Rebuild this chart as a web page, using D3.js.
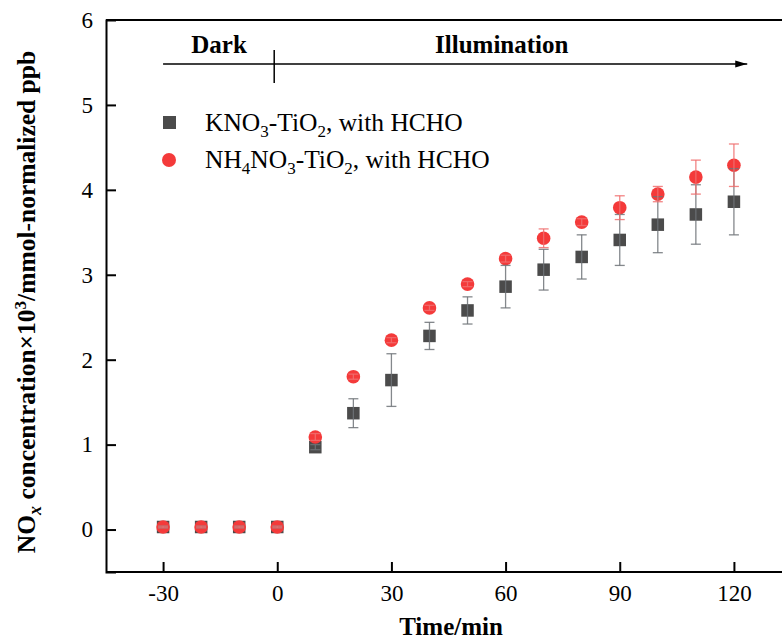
<!DOCTYPE html>
<head>
  <meta charset="utf-8">
  <script src="https://d3js.org/d3.v7.min.js"></script>
  <style>
    body { margin:0; background:#fff; }
    text { font-family: "Liberation Serif", "Times New Roman", serif; }
  </style>
</head>
<body>
<script>
// time points (min)
var times = [-30, -20, -10, 0, 10, 20, 30, 40, 50, 60, 70, 80, 90, 100, 110, 120];
// KNO3-TiO2 series
var kno3 = [0.03, 0.03, 0.03, 0.03, 0.97, 1.37, 1.76, 2.28, 2.58, 2.86, 3.06, 3.21, 3.41, 3.59, 3.71, 3.86];
var kno3Err = [0.01, 0.01, 0.01, 0.01, 0.03, 0.17, 0.31, 0.16, 0.16, 0.25, 0.24, 0.26, 0.30, 0.33, 0.35, 0.39];
// NH4NO3-TiO2 series
var nh4 = [0.03, 0.03, 0.03, 0.03, 1.09, 1.80, 2.23, 2.61, 2.89, 3.19, 3.43, 3.62, 3.79, 3.95, 4.15, 4.29];
var nh4Err = [0.01, 0.01, 0.01, 0.01, 0.04, 0.03, 0.03, 0.03, 0.03, 0.04, 0.11, 0.04, 0.14, 0.09, 0.20, 0.25];
var xTicks = [-30, 0, 30, 60, 90, 120];
var yTicks = [0, 1, 2, 3, 4, 5, 6];

var W = 782, H = 639;
var svg = d3.select("body").append("svg").attr("width", W).attr("height", H);

var x = d3.scaleLinear().domain([-45, 135]).range([106, 791]);
var y = d3.scaleLinear().domain([-0.5, 6]).range([572, 20]);

// frame (right side is cropped off)
svg.append("line").attr("x1", 106).attr("x2", W).attr("y1", 20).attr("y2", 20).attr("stroke", "#000").attr("stroke-width", 2);

var xAxis = svg.append("g").attr("transform", "translate(0,572)")
  .call(d3.axisBottom(x).tickValues(xTicks).tickSize(-10).tickPadding(13).tickFormat(d3.format("d")));
var yAxis = svg.append("g").attr("transform", "translate(106,0)")
  .call(d3.axisLeft(y).tickValues(yTicks).tickSize(-10).tickPadding(13).tickFormat(d3.format("d")));
[xAxis, yAxis].forEach(function(g){
  g.select(".domain").attr("stroke-width", 2);
  g.selectAll(".tick line").attr("stroke-width", 2);
  g.selectAll(".tick text").style("font-family", "Liberation Serif").style("font-size", "23px").attr("fill", "#000");
});
xAxis.select(".domain").attr("d", "M106,0H" + W);
yAxis.selectAll(".tick").filter(function(d){ return d === 6; }).select("line").remove();
xAxis.selectAll(".tick text").text(function(d){ return String(d); });

// axis titles
svg.append("text").attr("x", 451).attr("y", 635).attr("text-anchor", "middle")
  .style("font-size", "25px").style("font-weight", "bold").text("Time/min");

var yl = svg.append("text").attr("transform", "translate(35,302) rotate(-90)").attr("text-anchor", "middle")
  .style("font-size", "25.5px").style("font-weight", "bold");
yl.append("tspan").text("NO");
yl.append("tspan").attr("dy", 6).style("font-size", "18px").style("font-style", "italic").text("x");
yl.append("tspan").attr("dy", -6).text(" concentration×10");
yl.append("tspan").attr("dy", -9).style("font-size", "17px").text("3");
yl.append("tspan").attr("dy", 9).text("/mmol-normalized ppb");

// dark / illumination arrow
svg.append("defs").append("marker").attr("id", "arr").attr("viewBox", "0 0 10 10")
  .attr("refX", 10).attr("refY", 5).attr("markerWidth", 12).attr("markerHeight", 10)
  .attr("markerUnits", "userSpaceOnUse").attr("orient", "auto").attr("preserveAspectRatio", "none")
  .append("path").attr("d", "M0,1.5L10,5L0,8.5Z").attr("fill", "#000");
svg.append("line").attr("x1", x(-30)).attr("x2", x(123.5)).attr("y1", 64).attr("y2", 64)
  .attr("stroke", "#000").attr("stroke-width", 1.5).attr("marker-end", "url(#arr)");
svg.append("line").attr("x1", x(-0.8)).attr("x2", x(-0.8)).attr("y1", 50).attr("y2", 83)
  .attr("stroke", "#000").attr("stroke-width", 1.5);
svg.append("text").attr("x", x(-15.3)).attr("y", 53).attr("text-anchor", "middle")
  .style("font-size", "25px").style("font-weight", "bold").text("Dark");
svg.append("text").attr("x", x(59)).attr("y", 53).attr("text-anchor", "middle")
  .style("font-size", "25px").style("font-weight", "bold").text("Illumination");

// data
var kData = times.map(function(t, i){ return {t: t, v: kno3[i], e: kno3Err[i]}; });
var nData = times.map(function(t, i){ return {t: t, v: nh4[i], e: nh4Err[i]}; });

var sq = 12.5;
svg.selectAll(".sq").data(kData).enter().append("rect").attr("class", "sq")
  .attr("x", function(d){ return x(d.t) - sq/2; })
  .attr("y", function(d){ return y(d.v) - sq/2; })
  .attr("width", sq).attr("height", sq).attr("fill", "#4b4b4b");
svg.selectAll(".ci").data(nData).enter().append("circle").attr("class", "ci")
  .attr("cx", function(d){ return x(d.t); })
  .attr("cy", function(d){ return y(d.v); })
  .attr("r", 6.8).attr("fill", "#f43a3a");

function errBars(data, color, cls){
  var g = svg.selectAll("." + cls).data(data).enter().append("g").attr("class", cls)
    .attr("stroke", color).attr("stroke-width", 1.3);
  g.append("line").attr("x1", function(d){ return x(d.t); }).attr("x2", function(d){ return x(d.t); })
    .attr("y1", function(d){ return y(d.v + d.e); }).attr("y2", function(d){ return y(d.v - d.e); });
  [1, -1].forEach(function(s){
    g.append("line").attr("x1", function(d){ return x(d.t) - 5; }).attr("x2", function(d){ return x(d.t) + 5; })
      .attr("y1", function(d){ return y(d.v + s * d.e); }).attr("y2", function(d){ return y(d.v + s * d.e); });
  });
}
errBars(kData, "rgba(110,115,120,0.85)", "ek");
errBars(nData, "rgba(240,110,110,0.85)", "en");

// legend
svg.append("rect").attr("x", 163).attr("y", 116).attr("width", 13).attr("height", 13).attr("fill", "#4b4b4b");
svg.append("circle").attr("cx", 169).attr("cy", 160).attr("r", 7).attr("fill", "#f43a3a");
var l1 = svg.append("text").attr("x", 205).attr("y", 131).style("font-size", "25.5px");
l1.append("tspan").text("KNO");
l1.append("tspan").attr("dy", 6).style("font-size", "17px").text("3");
l1.append("tspan").attr("dy", -6).text("-TiO");
l1.append("tspan").attr("dy", 6).style("font-size", "17px").text("2");
l1.append("tspan").attr("dy", -6).text(", with HCHO");
var l2 = svg.append("text").attr("x", 205).attr("y", 168).style("font-size", "25.5px");
l2.append("tspan").text("NH");
l2.append("tspan").attr("dy", 6).style("font-size", "17px").text("4");
l2.append("tspan").attr("dy", -6).text("NO");
l2.append("tspan").attr("dy", 6).style("font-size", "17px").text("3");
l2.append("tspan").attr("dy", -6).text("-TiO");
l2.append("tspan").attr("dy", 6).style("font-size", "17px").text("2");
l2.append("tspan").attr("dy", -6).text(", with HCHO");
</script>
</body>
